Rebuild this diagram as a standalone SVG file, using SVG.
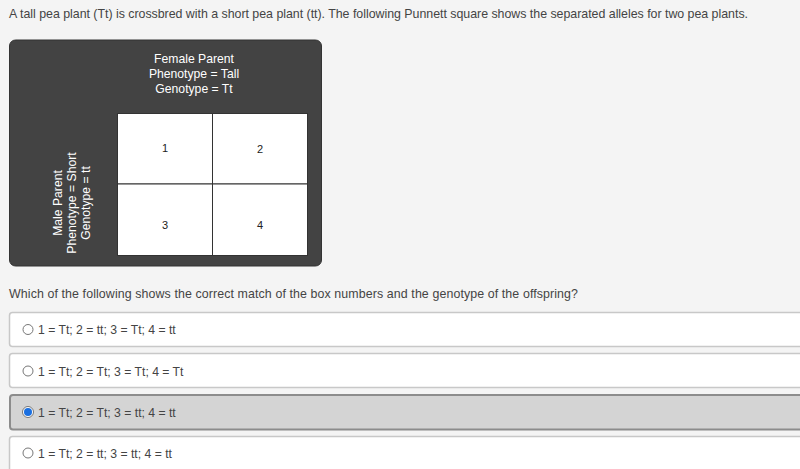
<svg xmlns="http://www.w3.org/2000/svg" width="800" height="469" viewBox="0 0 800 469">
<style>
text{font-family:"Liberation Sans",Arial,sans-serif;}
.t{font-size:12.2px;fill:#444;}
.q{font-size:12.4px;fill:#444;}
.w{font-size:12.2px;fill:#fff;text-anchor:middle;}
.n{font-size:11px;fill:#222;text-anchor:middle;}
.opt{fill:#fff;stroke:#c8c8c8;stroke-width:1.5;}
.sel{fill:#d4d4d4;stroke:#8c8c8c;stroke-width:2;}
.rad{fill:#fff;stroke:#777;stroke-width:1;}
.cell{fill:#fff;stroke:#333;stroke-width:1;}
</style>
<rect width="800" height="469" fill="#f4f4f4"/>
<text class="q" x="9" y="18" textLength="739" lengthAdjust="spacing">A tall pea plant (Tt) is crossbred with a short pea plant (tt). The following Punnett square shows the separated alleles for two pea plants.</text>
<g id="punnett">
<rect x="9.5" y="40" width="312" height="226" rx="6" fill="#434343" stroke="#333" stroke-width="1"/>
<g id="female-label">
<text class="w" x="194" y="63">Female Parent</text>
<text class="w" x="194" y="78">Phenotype = Tall</text>
<text class="w" x="194" y="93">Genotype = Tt</text>
</g>
<g id="male-label">
<text class="w" transform="translate(62,203) rotate(-90)">Male Parent</text>
<text class="w" transform="translate(76,203) rotate(-90)">Phenotype = Short</text>
<text class="w" transform="translate(90,203) rotate(-90)">Genotype = tt</text>
</g>
<g id="cell1"><rect class="cell" x="117.5" y="113.5" width="95" height="70.5"/><text class="n" x="165" y="152">1</text></g>
<g id="cell2"><rect class="cell" x="212.5" y="113.5" width="95" height="70.5"/><text class="n" x="260" y="153">2</text></g>
<g id="cell3"><rect class="cell" x="117.5" y="184" width="95" height="71.5"/><text class="n" x="165" y="229">3</text></g>
<g id="cell4"><rect class="cell" x="212.5" y="184" width="95" height="71.5"/><text class="n" x="260" y="229">4</text></g>
</g>
<text class="q" x="9" y="298" textLength="569" lengthAdjust="spacing">Which of the following shows the correct match of the box numbers and the genotype of the offspring?</text>
<g id="option1">
<rect class="opt" x="9.5" y="312.5" width="800" height="34" rx="3"/>
<circle class="rad" cx="28" cy="329.5" r="5"/>
<text class="t" x="38" y="334">1 = Tt; 2 = tt; 3 = Tt; 4 = tt</text>
</g>
<g id="option2">
<rect class="opt" x="9.5" y="353.5" width="800" height="34" rx="3"/>
<circle class="rad" cx="28" cy="371" r="5"/>
<text class="t" x="38" y="375.5">1 = Tt; 2 = Tt; 3 = Tt; 4 = Tt</text>
</g>
<g id="option3">
<rect class="sel" x="10" y="395" width="800" height="34.5" rx="3"/>
<circle cx="28" cy="412" r="5.5" fill="#fff" stroke="#777" stroke-width="1"/>
<circle cx="28" cy="412" r="4" fill="#1a6fe0"/>
<text class="t" x="38" y="416.5">1 = Tt; 2 = Tt; 3 = tt; 4 = tt</text>
</g>
<g id="option4">
<rect class="opt" x="9.5" y="436.5" width="800" height="40" rx="3"/>
<circle class="rad" cx="28" cy="453" r="5"/>
<text class="t" x="38" y="457.5">1 = Tt; 2 = tt; 3 = tt; 4 = tt</text>
</g>
</svg>
